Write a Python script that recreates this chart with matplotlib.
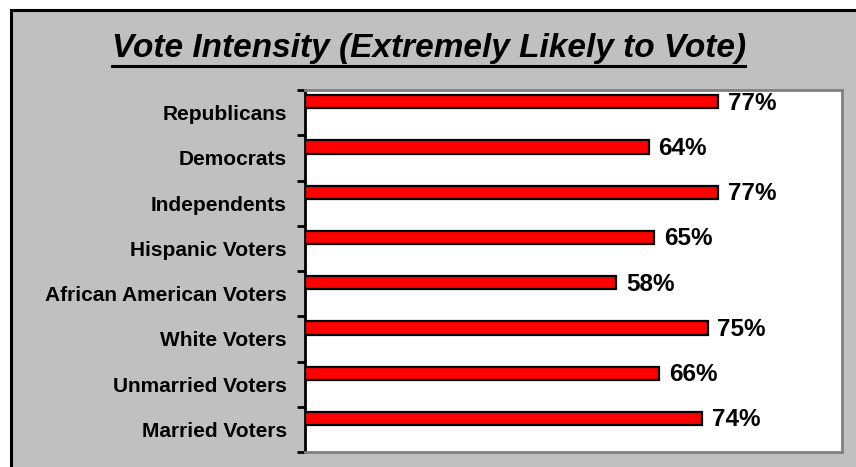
import matplotlib.pyplot as plt
from matplotlib.patches import Rectangle

groups = [
    "Republicans",
    "Democrats",
    "Independents",
    "Hispanic Voters",
    "African American Voters",
    "White Voters",
    "Unmarried Voters",
    "Married Voters",
]
extremely_likely = [77, 64, 77, 65, 58, 75, 66, 74]
title = "Vote Intensity (Extremely Likely to Vote)"

W, H = 856, 467
fig = plt.figure(figsize=(W / 100, H / 100), dpi=100)
fig.patch.set_facecolor("white")

# grey chart area; it runs off the right and bottom so only top/left edges show
frame = Rectangle((11 / W, -1.0), 2.0, 2 - 10 / H, transform=fig.transFigure,
                  facecolor="#C0C0C0", edgecolor="black", linewidth=2.2, zorder=-5)
fig.add_artist(frame)

fig.text(429 / W, 1 - 49 / H, title, ha="center", va="center",
         fontsize=24, fontweight="bold", fontstyle="italic",
         family="Liberation Sans")
# underline for the title
fig.add_artist(plt.Line2D([112 / W, 745 / W], [1 - 66 / H, 1 - 66 / H],
                          transform=fig.transFigure, color="black", linewidth=2.2))

ax = fig.add_axes([305 / W, 15 / H, 537 / W, 362 / H])
ax.set_facecolor("white")

n = len(groups)
pos = [i - 0.24 for i in range(n)]
ax.barh(pos, extremely_likely, height=0.29, color="#FF0000",
        edgecolor="black", linewidth=1.6, zorder=3)

for y, v in zip(pos, extremely_likely):
    ax.text(v + 1.8, y + 0.03, f"{v}%", va="center", ha="left",
            fontsize=17.5, fontweight="bold", family="Liberation Sans")

ax.set_xlim(0, 100)
ax.set_ylim(n - 0.5, -0.5)
ax.set_xticks([])

# ticks on category boundaries, labels in the middle of each slot
ax.set_yticks([i - 0.5 for i in range(n + 1)])
ax.set_yticklabels([])
ax.tick_params(axis="y", which="major", length=6, width=2, color="black")
ax.set_yticks(range(n), minor=True)
ax.set_yticklabels(groups, minor=True, fontsize=15, fontweight="bold",
                   family="Liberation Sans")
ax.tick_params(axis="y", which="minor", length=0, pad=13)

ax.spines["left"].set_color("black")
ax.spines["left"].set_linewidth(2)
for side in ("top", "right", "bottom"):
    ax.spines[side].set_color("#808080")
    ax.spines[side].set_linewidth(2)

fig.savefig("out.png", dpi=100)
